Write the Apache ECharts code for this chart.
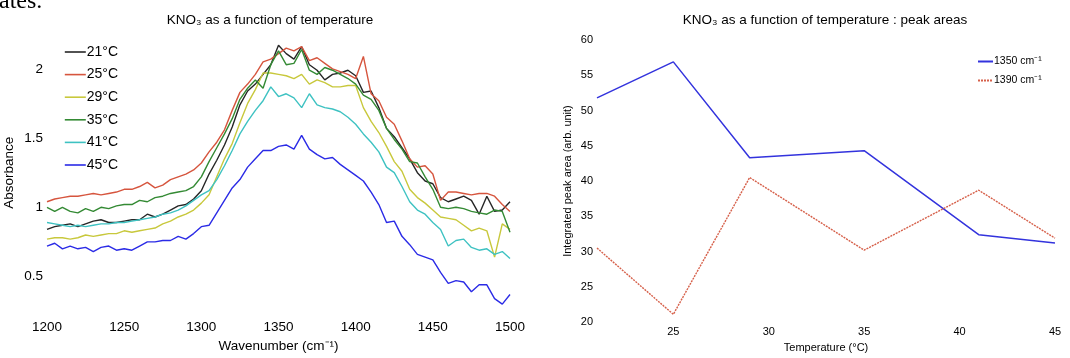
<!DOCTYPE html>
<html>
<head>
<meta charset="utf-8">
<script src="https://cdn.jsdelivr.net/npm/echarts@6/dist/echarts.min.js"></script>
<style>
html,body{margin:0;padding:0;background:#fff;}
#c{width:1070px;height:358px;}
</style>
</head>
<body>
<div id="c"></div>
<script>
// ---- Left panel: absorbance spectra ----
const wavenumbers = [1200,1205,1210,1215,1220,1225,1230,1235,1240,1245,
  1250,1255,1260,1265,1270,1275,1280,1285,1290,1295,
  1300,1305,1310,1315,1320,1325,1330,1335,1340,1345,
  1350,1355,1360,1365,1370,1375,1380,1385,1390,1395,
  1400,1405,1410,1415,1420,1425,1430,1435,1440,1445,
  1450,1455,1460,1465,1470,1475,1480,1485,1490,1495,1500];
const abs21 = [0.84,0.86,0.87,0.88,0.86,0.88,0.90,0.91,0.89,0.89,
  0.90,0.91,0.91,0.95,0.93,0.95,0.98,1.01,1.02,1.06,
  1.12,1.24,1.34,1.45,1.58,1.74,1.84,1.89,1.96,2.03,
  2.17,2.11,2.07,2.16,2.03,1.99,1.92,1.96,1.97,1.99,
  1.95,1.83,1.84,1.72,1.57,1.51,1.43,1.35,1.25,1.19,
  1.17,1.07,1.04,1.06,1.08,1.05,0.95,1.08,0.97,0.98,1.04];
const abs25 = [1.04,1.06,1.07,1.08,1.08,1.09,1.10,1.09,1.10,1.11,
  1.13,1.13,1.15,1.18,1.14,1.16,1.20,1.22,1.24,1.27,
  1.32,1.40,1.47,1.56,1.70,1.83,1.89,1.96,2.05,2.07,
  2.11,2.15,2.13,2.16,2.06,2.08,2.04,2.00,1.98,1.96,
  1.93,2.09,1.82,1.77,1.65,1.60,1.48,1.35,1.29,1.30,
  1.24,1.05,1.11,1.11,1.10,1.09,1.10,1.10,1.08,1.02,0.97];
const abs29 = [0.77,0.78,0.78,0.77,0.78,0.80,0.79,0.80,0.81,0.81,
  0.83,0.82,0.83,0.84,0.85,0.88,0.90,0.93,0.95,0.98,
  1.03,1.09,1.22,1.35,1.46,1.61,1.75,1.85,1.97,1.97,
  1.96,1.95,1.93,1.96,1.89,1.92,1.90,1.87,1.87,1.88,
  1.88,1.72,1.62,1.54,1.44,1.33,1.26,1.13,1.07,1.03,
  0.98,0.93,0.92,0.91,0.87,0.83,0.85,0.83,0.64,0.88,0.84];
const abs35 = [1.00,0.97,1.00,0.97,0.96,0.99,0.97,1.00,0.99,1.01,
  1.02,1.02,1.05,1.04,1.07,1.08,1.10,1.11,1.12,1.15,
  1.22,1.33,1.43,1.53,1.64,1.78,1.86,1.92,1.86,2.03,
  2.13,2.03,2.04,2.14,1.99,1.96,2.01,1.99,1.96,1.93,
  1.89,1.81,1.78,1.70,1.57,1.49,1.42,1.33,1.32,1.22,
  1.13,1.00,0.99,1.00,0.99,0.97,0.96,0.95,0.98,0.97,0.82];
const abs41 = [0.89,0.88,0.87,0.86,0.87,0.86,0.87,0.88,0.88,0.89,
  0.89,0.90,0.91,0.92,0.93,0.95,0.96,0.98,1.01,1.05,
  1.09,1.12,1.20,1.30,1.41,1.53,1.62,1.70,1.77,1.87,
  1.80,1.82,1.79,1.72,1.82,1.74,1.72,1.71,1.69,1.65,
  1.60,1.53,1.47,1.40,1.29,1.25,1.15,1.04,0.98,0.95,
  0.89,0.84,0.72,0.76,0.77,0.71,0.69,0.70,0.66,0.68,0.63];
const abs45 = [0.72,0.74,0.70,0.72,0.70,0.71,0.68,0.71,0.72,0.69,
  0.70,0.69,0.72,0.75,0.75,0.76,0.76,0.79,0.77,0.81,
  0.86,0.87,0.96,1.05,1.14,1.20,1.29,1.35,1.41,1.41,
  1.44,1.45,1.42,1.52,1.42,1.38,1.35,1.36,1.31,1.27,
  1.23,1.19,1.11,1.02,0.89,0.90,0.79,0.73,0.66,0.64,
  0.62,0.53,0.45,0.47,0.46,0.39,0.44,0.44,0.34,0.30,0.37];
const spectraNames = ['21°C','25°C','29°C','35°C','41°C','45°C'];
const spectraColors = ['#262626','#d6553e','#c8c83c','#348a34','#3ec2c2','#2b2be6'];
const spectraValues = [abs21, abs25, abs29, abs35, abs41, abs45];
const wavenumberTicks = [1200,1250,1300,1350,1400,1450,1500];
const absorbanceTicks = [0.5,1,1.5,2];

// ---- Right panel: integrated peak areas ----
const temperatures = [21,25,29,35,41,45];
const area1350 = [51.8,56.9,43.3,44.3,32.4,31.2];
const area1390 = [30.5,21.1,40.5,30.2,38.7,31.9];
const areaNames = ['1350 cm⁻¹','1390 cm⁻¹'];
const temperatureTicks = [25,30,35,40,45];

const FONT = '"Liberation Sans", Arial, Helvetica, sans-serif';
const chart = echarts.init(document.getElementById('c'), null, {renderer:'canvas'});

const spectraSeries = spectraNames.map((name, k) => ({
  type:'line', name, xAxisIndex:0, yAxisIndex:0,
  data: wavenumbers.map((w, j) => [w, spectraValues[k][j]]),
  symbol:'none', showSymbol:false, animation:false,
  lineStyle:{width:1.4, color:spectraColors[k]},
  itemStyle:{color:spectraColors[k]}
}));

const option = {
  backgroundColor:'#fff',
  animation:false,
  textStyle:{fontFamily:FONT},
  grid:[
    {left:47, top:34.25, width:463, height:282.8},
    {left:597, top:40, width:458, height:283.3}
  ],
  xAxis:[
    {gridIndex:0, type:'value', min:1200, max:1500, interval:50,
     axisLine:{show:false}, axisTick:{show:false}, splitLine:{show:false},
     axisLabel:{fontSize:13.5, color:'#000', margin:9, fontFamily:FONT,
       formatter:v => wavenumberTicks.includes(v) ? String(v) : ''},
     name:'Wavenumber (cm⁻¹)', nameLocation:'middle', nameGap:27,
     nameTextStyle:{fontSize:13.5, color:'#000', fontFamily:FONT}},
    {gridIndex:1, type:'value', min:21, max:45, interval:1,
     axisLine:{show:false}, axisTick:{show:false}, splitLine:{show:false},
     axisLabel:{fontSize:11, color:'#000', margin:4, fontFamily:FONT,
       formatter:v => temperatureTicks.includes(v) ? String(v) : ''},
     name:'Temperature (°C)', nameLocation:'middle', nameGap:17,
     nameTextStyle:{fontSize:11, color:'#000', fontFamily:FONT}}
  ],
  yAxis:[
    {gridIndex:0, type:'value', min:0.25, max:2.25, interval:0.25,
     axisLine:{show:false}, axisTick:{show:false}, splitLine:{show:false},
     axisLabel:{fontSize:13.5, color:'#000', margin:4, fontFamily:FONT,
       formatter:v => {const t = absorbanceTicks.find(a => Math.abs(a - v) < 1e-6); return t === undefined ? '' : String(t);}},
     name:'Absorbance', nameLocation:'middle', nameGap:31,
     nameTextStyle:{fontSize:13.5, color:'#000', fontFamily:FONT}},
    {gridIndex:1, type:'value', min:20, max:60, interval:5,
     axisLine:{show:false}, axisTick:{show:false}, splitLine:{show:false},
     axisLabel:{fontSize:11, color:'#000', margin:4, fontFamily:FONT},
     name:'Integrated peak area (arb. unit)', nameLocation:'middle', nameGap:24,
     nameTextStyle:{fontSize:11, color:'#000', fontFamily:FONT}}
  ],
  legend:[
    {data:spectraNames, orient:'vertical', left:64, top:45, itemWidth:21, itemHeight:14,
     itemGap:8.6, padding:0, itemStyle:{opacity:0}, lineStyle:{width:1.6},
     textStyle:{fontSize:14, color:'#000', fontFamily:FONT, lineHeight:14, padding:[0,0,0,-4]}},
    {data:areaNames, orient:'vertical', left:977, top:56, itemWidth:15, itemHeight:10,
     itemGap:8, padding:0, itemStyle:{opacity:0},
     textStyle:{fontSize:10.5, color:'#000', fontFamily:FONT, lineHeight:10, padding:[0,0,0,-4]}}
  ],
  graphic:[
    {type:'text', x:270, y:20, silent:true,
     style:{text:'KNO₃ as a function of temperature', align:'center', verticalAlign:'middle',
       font:'13.5px ' + FONT, fill:'#000'}},
    {type:'text', x:825, y:20, silent:true,
     style:{text:'KNO₃ as a function of temperature : peak areas', align:'center', verticalAlign:'middle',
       font:'13.5px ' + FONT, fill:'#000'}},
    {type:'text', x:-1, y:14, silent:true,
     style:{text:'ates.', align:'left', verticalAlign:'bottom',
       font:'24px "Liberation Serif", "Times New Roman", serif', fill:'#000'}}
  ],
  series: spectraSeries.concat([
    {type:'line', name:areaNames[0], xAxisIndex:1, yAxisIndex:1,
     data: temperatures.map((t, j) => [t, area1350[j]]),
     symbol:'none', showSymbol:false, lineStyle:{width:1.5, color:'#3333dd'}, itemStyle:{color:'#3333dd'}},
    {type:'line', name:areaNames[1], xAxisIndex:1, yAxisIndex:1,
     data: temperatures.map((t, j) => [t, area1390[j]]),
     symbol:'none', showSymbol:false, lineStyle:{width:1.4, color:'#d6604a', type:[2,1]}, itemStyle:{color:'#d6604a'}}
  ])
};
chart.setOption(option);
</script>
</body>
</html>
